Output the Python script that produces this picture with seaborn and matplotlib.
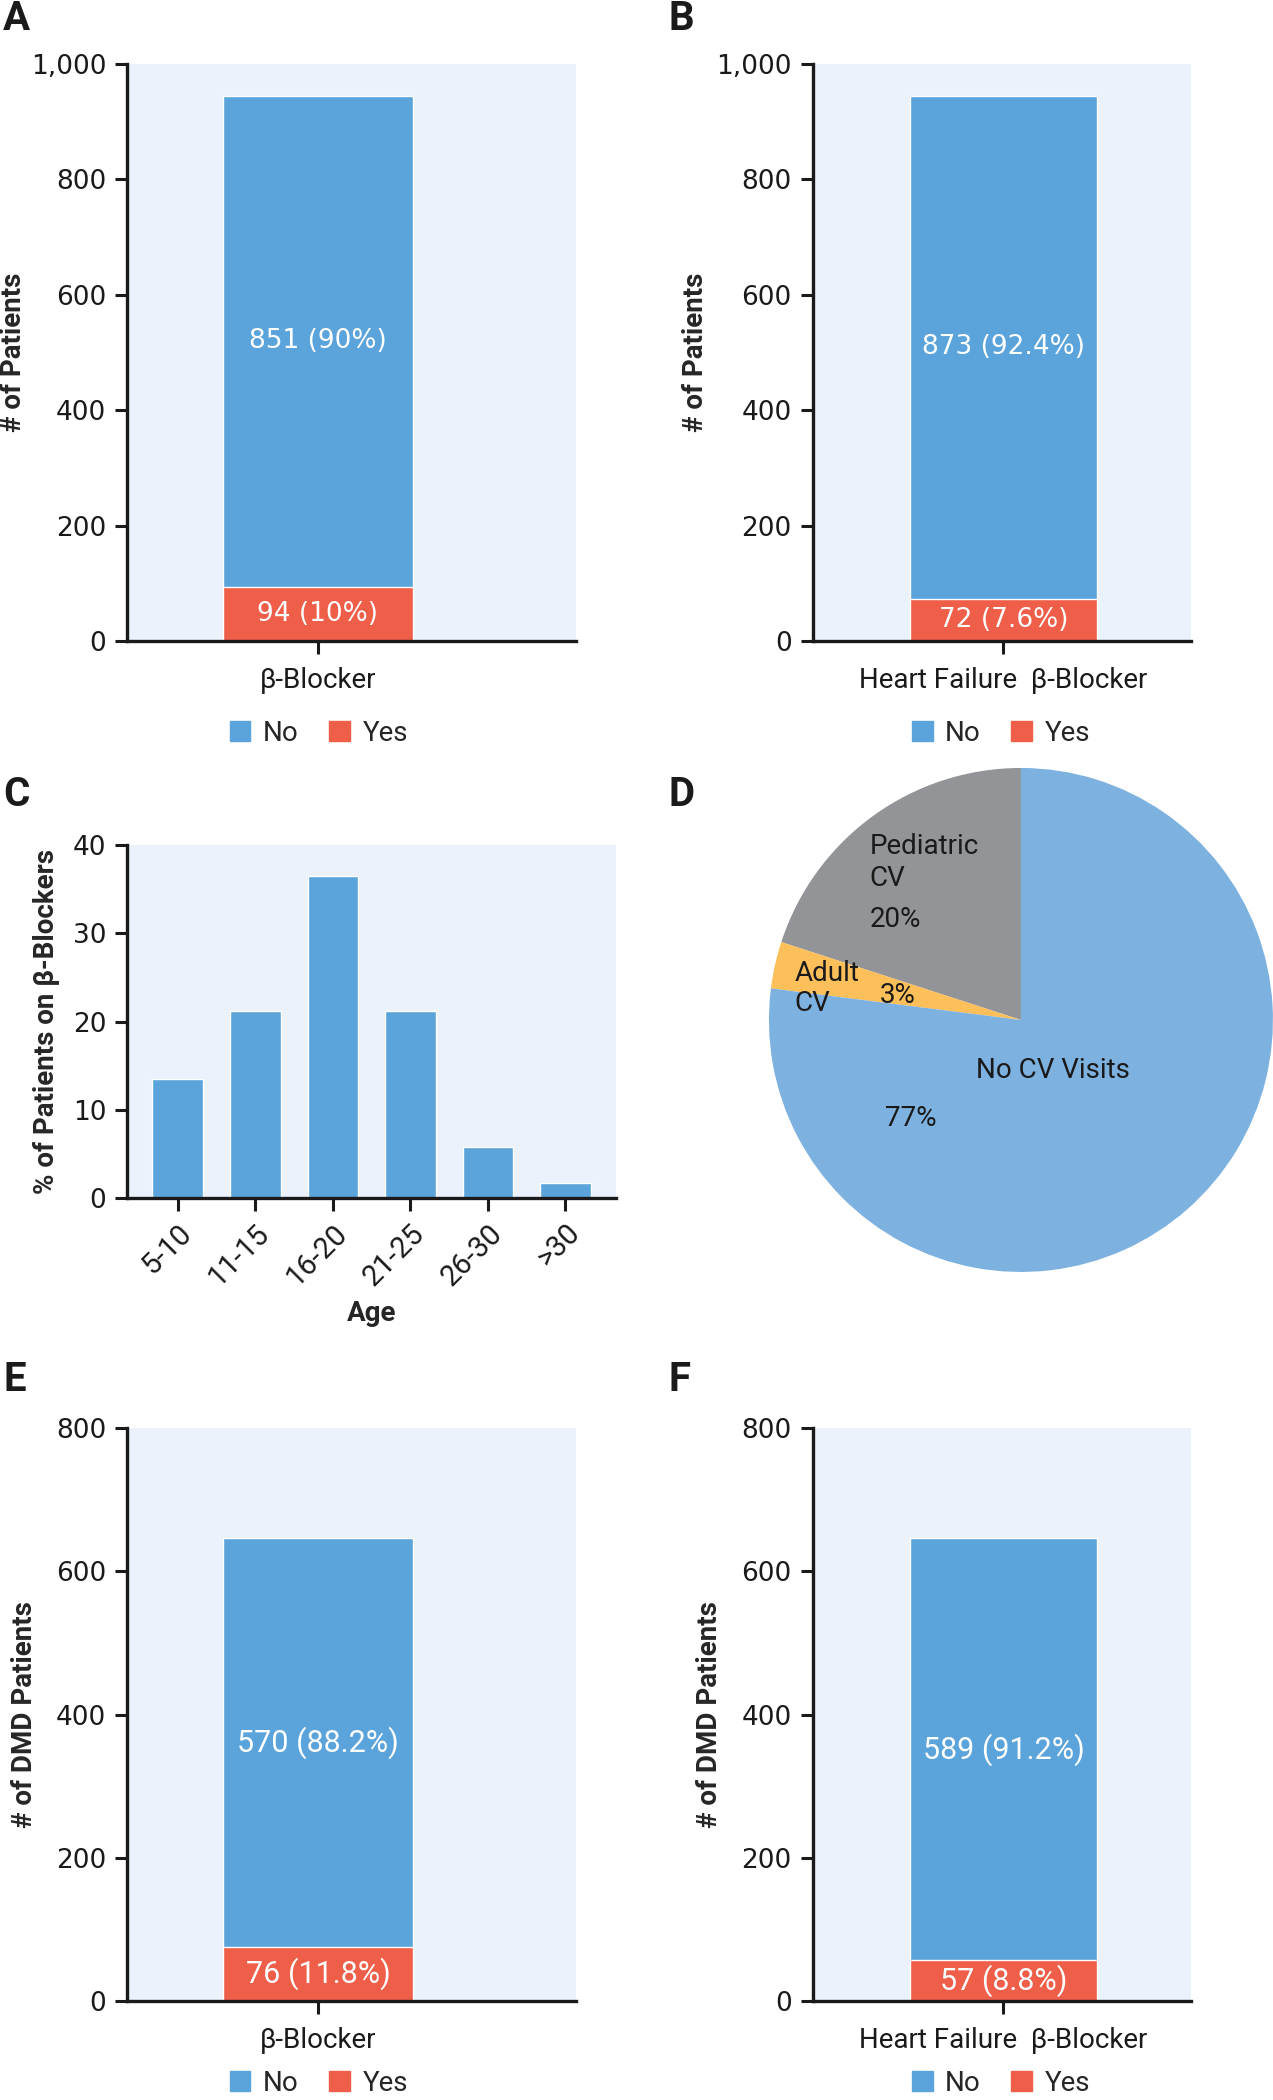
import matplotlib
matplotlib.use("Agg")
import matplotlib.pyplot as plt
import seaborn as sns
from matplotlib.patches import Patch
from matplotlib.ticker import FuncFormatter

# colours
BLUE = "#5BA4DB"
RED = "#EF5E48"
BG = "#EBF2FB"
PIE_BLUE = "#7DB1DF"
PIE_GRAY = "#929497"
PIE_ORANGE = "#FDBF5A"

# A / B: all patients
bb_cat = ["β-Blocker"]
bb_no = [851]
bb_yes = [94]
bb_no_txt = ["851 (90%)"]
bb_yes_txt = ["94 (10%)"]

hf_cat = ["Heart Failure  β-Blocker"]
hf_no = [873]
hf_yes = [72]
hf_no_txt = ["873 (92.4%)"]
hf_yes_txt = ["72 (7.6%)"]

# C: age groups
age_groups = ["5-10", "11-15", "16-20", "21-25", "26-30", ">30"]
age_pct = [13.5, 21.2, 36.5, 21.2, 5.8, 1.7]

# D: CV visits
visit_names = ["Pediatric\nCV", "Adult\nCV", "No CV Visits"]
visit_pct = [20, 3, 77]
visit_pct_txt = ["20%", "3%", "77%"]

# E / F: DMD patients
dmd_bb_no = [570]
dmd_bb_yes = [76]
dmd_bb_no_txt = ["570 (88.2%)"]
dmd_bb_yes_txt = ["76 (11.8%)"]

dmd_hf_no = [589]
dmd_hf_yes = [57]
dmd_hf_no_txt = ["589 (91.2%)"]
dmd_hf_yes_txt = ["57 (8.8%)"]

sns.set_style("white")
plt.rcParams['font.family'] = ['Roboto', 'DejaVu Sans']
LABEL_FONT = ['Liberation Sans Narrow', 'Roboto', 'DejaVu Sans']
INK = '#1a1a1a'


def style_axis(ax, xsize=20):
    ax.set_facecolor(BG)
    for s in ['top', 'right']:
        ax.spines[s].set_visible(False)
    for s in ['left', 'bottom']:
        ax.spines[s].set_linewidth(2.4)
        ax.spines[s].set_color(INK)
    ax.tick_params(direction='out', length=9, width=2.2, color=INK,
                   labelcolor=INK, left=True, bottom=True)
    ax.tick_params(axis='y', labelsize=19, pad=6, labelfontfamily='DejaVu Sans')
    ax.tick_params(axis='x', labelsize=xsize, pad=10, labelfontfamily='Roboto')


def stacked_panel(ax, cat, no, yes, no_txt, yes_txt, ymax, step, xlim,
                  ylabel, ylab_x, leg_x, leg_y, font, size, comma=False):
    total = [n + y for n, y in zip(no, yes)]
    sns.barplot(x=cat, y=total, color=BLUE, saturation=1, width=0.6, ax=ax)
    sns.barplot(x=cat, y=yes, color=RED, saturation=1, width=0.6, ax=ax)
    for i in range(len(cat)):
        ax.text(i, yes[i] + no[i] / 2, no_txt[i], ha='center', va='center',
                color='white', fontsize=size, family=font)
        ax.text(i, yes[i] / 2, yes_txt[i], ha='center', va='center',
                color='white', fontsize=size, family=font)
    ax.set_ylim(0, ymax)
    ax.set_yticks(range(0, ymax + 1, step))
    if comma:
        ax.yaxis.set_major_formatter(FuncFormatter(lambda v, p: f"{int(v):,}"))
    ax.set_xlim(*xlim)
    ax.set_xlabel("")
    ax.set_ylabel(ylabel, fontsize=20, fontweight='bold', family=LABEL_FONT)
    ax.yaxis.set_label_coords(ylab_x, 0.5)
    style_axis(ax)
    handles = [Patch(color=BLUE, label='No'), Patch(color=RED, label='Yes')]
    ax.legend(handles=handles, loc='center', bbox_to_anchor=(leg_x, leg_y),
              ncol=2, frameon=False, handlelength=0.75, handleheight=0.75,
              columnspacing=1.1, handletextpad=0.45,
              prop={'family': 'Roboto', 'size': 20})


fig = plt.figure(figsize=(12.73, 21.0), dpi=100)

# A
ax_a = fig.add_axes([0.0998, 0.6948, 0.3527, 0.2748])
stacked_panel(ax_a, bb_cat, bb_no, bb_yes, bb_no_txt, bb_yes_txt, 1000, 200,
              (-0.606, 0.819), "# of Patients", -0.223, 0.427, -0.16,
              'DejaVu Sans', 19, comma=True)

# B
ax_b = fig.add_axes([0.6383, 0.6948, 0.2974, 0.2748])
stacked_panel(ax_b, hf_cat, hf_no, hf_yes, hf_no_txt, hf_yes_txt, 1000, 200,
              (-0.61, 0.60), "# of Patients", -0.273, 0.498, -0.16,
              'DejaVu Sans', 19, comma=True)

# C
ax_c = fig.add_axes([0.0998, 0.4295, 0.384, 0.168])
sns.barplot(x=age_groups, y=age_pct, color=BLUE, saturation=1, width=0.656, ax=ax_c)
ax_c.set_ylim(0, 40)
ax_c.set_yticks(range(0, 41, 10))
ax_c.set_xlim(-0.656, 5.65)
ax_c.set_ylabel("% of Patients on β-Blockers", fontsize=20, fontweight='bold',
                family=LABEL_FONT)
ax_c.yaxis.set_label_coords(-0.137, 0.5)
ax_c.set_xlabel("Age", fontsize=20, fontweight='bold', family=LABEL_FONT)
ax_c.xaxis.set_label_coords(0.5, -0.29)
style_axis(ax_c, xsize=21)
ax_c.tick_params(axis='x', pad=6)
for lbl in ax_c.get_xticklabels():
    lbl.set_rotation(45)
    lbl.set_ha('right')
    lbl.set_rotation_mode('anchor')

# D
ax_d = fig.add_axes([0.604, 0.3943, 0.396, 0.24])
ax_d.pie(visit_pct, colors=[PIE_GRAY, PIE_ORANGE, PIE_BLUE], startangle=90,
         counterclock=True, wedgeprops=dict(linewidth=0))
ax_d.set_aspect('equal')
ax_d.set_xlim(-1.0, 1.0)
ax_d.set_ylim(-1.0, 1.0)
ax_d.axis('off')
pie_kw = dict(fontsize=20, color=INK, ha='left', va='center')
ax_d.text(-0.60, 0.625, visit_names[0], linespacing=1.2, **pie_kw)
ax_d.text(-0.60, 0.40, visit_pct_txt[0], **pie_kw)
ax_d.text(-0.90, 0.125, visit_names[1], linespacing=1.1, **pie_kw)
ax_d.text(-0.56, 0.096, visit_pct_txt[1], **pie_kw)
ax_d.text(-0.18, -0.20, visit_names[2], **pie_kw)
ax_d.text(-0.54, -0.39, visit_pct_txt[2], **pie_kw)

# E
ax_e = fig.add_axes([0.0998, 0.0471, 0.3527, 0.2729])
stacked_panel(ax_e, bb_cat, dmd_bb_no, dmd_bb_yes, dmd_bb_no_txt, dmd_bb_yes_txt,
              800, 200, (-0.606, 0.819), "# of DMD Patients", -0.199, 0.427, -0.143,
              'Roboto', 22)

# F
ax_f = fig.add_axes([0.6383, 0.0471, 0.2974, 0.2729])
stacked_panel(ax_f, hf_cat, dmd_hf_no, dmd_hf_yes, dmd_hf_no_txt, dmd_hf_yes_txt,
              800, 200, (-0.61, 0.60), "# of DMD Patients", -0.236, 0.498, -0.143,
              'Roboto', 22)

# panel letters
for letter, x, y in [("A", 3, 0), ("B", 669, 0), ("C", 3, 776),
                     ("D", 669, 776), ("E", 3, 1361), ("F", 669, 1361)]:
    fig.text(x / 1273, 1 - y / 2100, letter, fontsize=29, fontweight='bold',
             ha='left', va='top', color=INK, family=['Roboto', 'DejaVu Sans'])

fig.savefig("out.png", dpi=100)
